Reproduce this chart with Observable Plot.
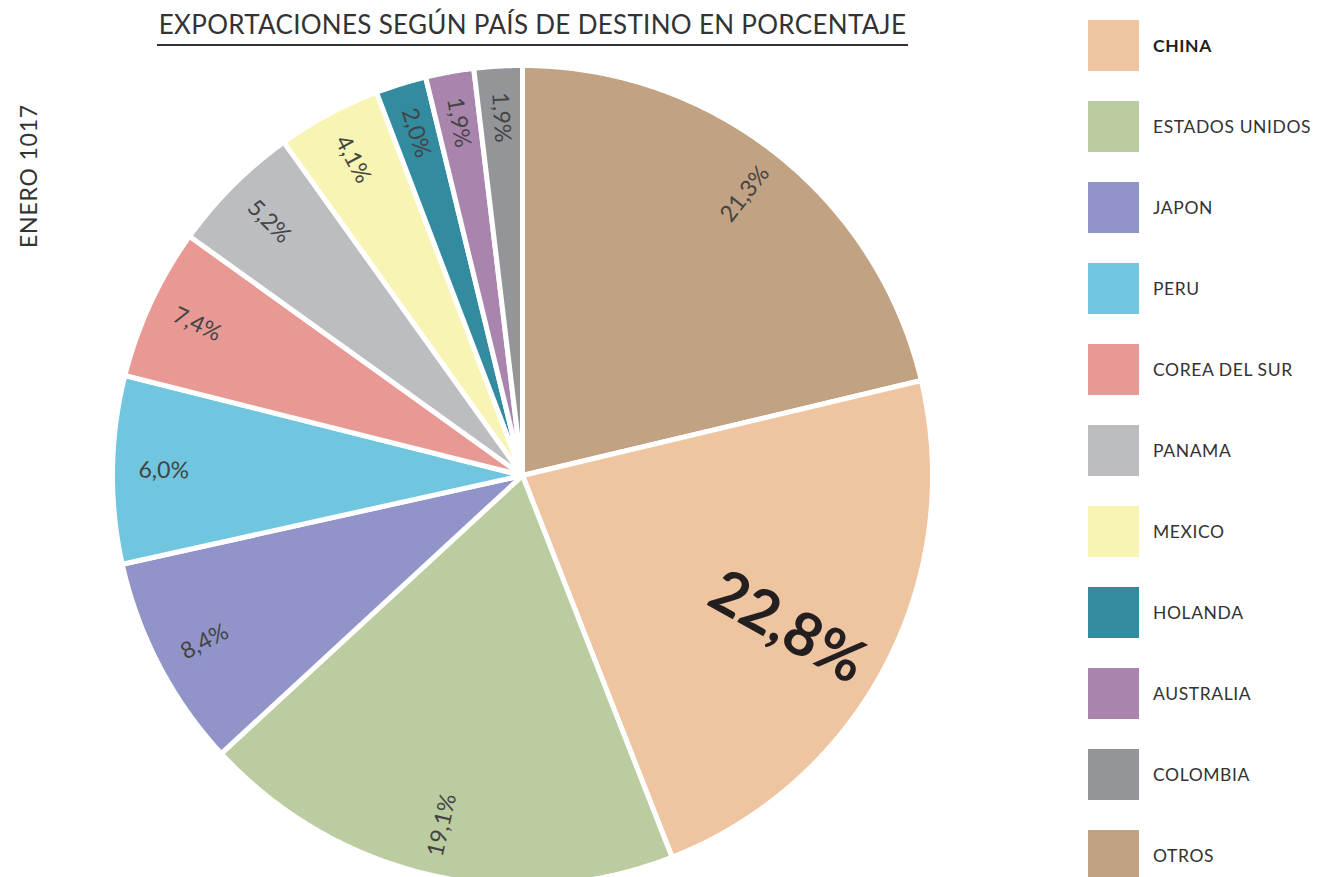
<!DOCTYPE html>
<html>
<head>
<meta charset="utf-8">
<script src="https://cdn.jsdelivr.net/npm/d3@7"></script>
<script src="https://cdn.jsdelivr.net/npm/@observablehq/plot@0.6"></script>
<style>
  html, body { margin: 0; padding: 0; background: #fff; }
  #wrap { position: relative; width: 1317px; height: 877px; overflow: hidden; font-family: Lato, "Noto Sans", sans-serif; color: #333; }
  #chart { position: absolute; left: 0; top: 0; }
  #title { position: absolute; left: 157px; width: 751px; top: 8px; text-align: center; font-size: 26px; color: #333; white-space: nowrap; letter-spacing: 0.3px; }
  #rule { position: absolute; left: 157px; width: 751px; top: 44px; height: 2px; background: #333; }
  #side { position: absolute; left: 28px; top: 176px; transform: translate(-50%, -50%) rotate(-90deg); font-size: 23px; letter-spacing: 0.8px; color: #333; white-space: nowrap; }
  .leg { position: absolute; left: 1088px; height: 51px; display: flex; align-items: center; }
  .sw { width: 51px; height: 51px; flex: none; }
  .lab { margin-left: 14px; font-size: 17.5px; letter-spacing: 0.6px; color: #333; white-space: nowrap; }
</style>
</head>
<body>
<div id="wrap">
  <div id="chart"></div>
  <div id="title"></div>
  <div id="rule"></div>
  <div id="side"></div>
  <div id="legend"></div>
</div>
<script>
// ---- data ----
const titleText = "EXPORTACIONES SEGÚN PAÍS DE DESTINO EN PORCENTAJE";
const sideText = "ENERO 1017";
// slice order, clockwise from 12 o'clock
const countries = ["OTROS", "CHINA", "ESTADOS UNIDOS", "JAPON", "PERU", "COREA DEL SUR", "PANAMA", "MEXICO", "HOLANDA", "AUSTRALIA", "COLOMBIA"];
// slice sizes as drawn in the picture
const shares = [21.3, 22.8, 19.1, 8.4, 7.4, 6.0, 5.2, 4.1, 2.0, 1.9, 1.9];
// labels as printed on the slices
const shareLabels = ["21,3%", "22,8%", "19,1%", "8,4%", "6,0%", "7,4%", "5,2%", "4,1%", "2,0%", "1,9%", "1,9%"];
const colors = ["#C1A283", "#EFC5A1", "#BBCDA0", "#9194C8", "#6FC6DE", "#E89994", "#BCBDC1", "#F8F4B3", "#338BA0", "#A985AE", "#939598"];
const legendOrder = ["CHINA", "ESTADOS UNIDOS", "JAPON", "PERU", "COREA DEL SUR", "PANAMA", "MEXICO", "HOLANDA", "AUSTRALIA", "COLOMBIA", "OTROS"];
const highlight = "CHINA";

// ---- build ----
const data = countries.map((name, i) => ({name, share: shares[i], label: shareLabels[i]}));
const arcs = d3.pie().sort(null).value(d => d.share)(data);

const cx = 522, cy = 475, R = 410;

const outline = [];
for (const a of arcs) {
  const n = Math.ceil((a.endAngle - a.startAngle) / 0.004) + 1;
  outline.push({name: a.data.name, x: 0, y: 0});
  for (let k = 0; k <= n; k++) {
    const t = a.startAngle + (a.endAngle - a.startAngle) * k / n;
    outline.push({name: a.data.name, x: Math.sin(t), y: Math.cos(t)});
  }
  outline.push({name: a.data.name, x: 0, y: 0});
}

const labelPts = arcs.map(a => {
  const big = a.data.name === highlight;
  const mid = (a.startAngle + a.endAngle) / 2 + (big ? 0.04 : 0);
  const deg = ((a.startAngle + a.endAngle) / 2) * 180 / Math.PI;
  const r = big ? 0.745 : 0.875;
  const rot = deg <= 180 ? deg - 90 + (big ? 1.5 : 0) : deg - 270;
  return {name: a.data.name, label: a.data.label, x: r * Math.sin(mid), y: r * Math.cos(mid), rotate: rot, big};
});

const chart = Plot.plot({
  width: 1317,
  height: 877,
  margin: 0,
  x: {domain: [-1, 1], range: [cx - R, cx + R], axis: null},
  y: {domain: [-1, 1], range: [cy + R, cy - R], axis: null},
  color: {domain: countries, range: colors},
  style: {fontFamily: "Lato, 'Noto Sans', sans-serif", background: "transparent", overflow: "hidden"},
  marks: [
    Plot.line(outline, {x: "x", y: "y", z: "name", fill: "name", stroke: "white", strokeWidth: 5, strokeLinejoin: "round", curve: "linear"}),
    Plot.text(labelPts.filter(d => !d.big), {x: "x", y: "y", text: "label", rotate: "rotate", fontSize: 23, fill: "#444"}),
    Plot.text(labelPts.filter(d => d.big), {x: "x", y: "y", text: "label", rotate: "rotate", fontSize: 60, fontWeight: "bold", fill: "#231f20"})
  ]
});
document.getElementById("chart").appendChild(chart);

document.getElementById("title").textContent = titleText;
document.getElementById("side").textContent = sideText;

const leg = document.getElementById("legend");
legendOrder.forEach((name, i) => {
  const row = document.createElement("div");
  row.className = "leg";
  row.style.top = (20 + i * 81) + "px";
  const sw = document.createElement("div");
  sw.className = "sw";
  sw.style.background = colors[countries.indexOf(name)];
  const lab = document.createElement("div");
  lab.className = "lab";
  lab.textContent = name;
  if (name === highlight) { lab.style.fontWeight = "bold"; lab.style.color = "#231f20"; }
  row.appendChild(sw);
  row.appendChild(lab);
  leg.appendChild(row);
});
</script>
</body>
</html>
